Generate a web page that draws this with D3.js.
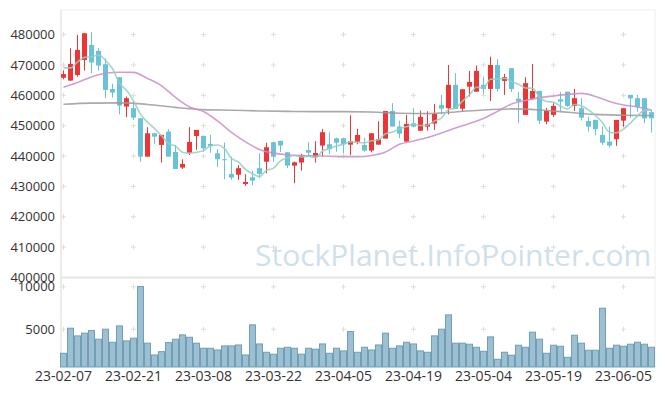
<!DOCTYPE html>
<html>
<head>
<meta charset="utf-8">
<script src="https://cdn.jsdelivr.net/npm/d3@7"></script>
<style>
  body { margin: 0; background: #fff; }
  svg { display: block; }
  text { font-family: "Open Sans", sans-serif; }
</style>
</head>
<body>
<div id="chart"></div>
<script>
// trading days 2023-02-07 .. 2023-06-12
const dates = [
  "23-02-07","23-02-08","23-02-09","23-02-10","23-02-13","23-02-14","23-02-15","23-02-16","23-02-17","23-02-20",
  "23-02-21","23-02-22","23-02-23","23-02-24","23-02-27","23-02-28","23-03-02","23-03-03","23-03-06","23-03-07",
  "23-03-08","23-03-09","23-03-10","23-03-13","23-03-14","23-03-15","23-03-16","23-03-17","23-03-20","23-03-21",
  "23-03-22","23-03-23","23-03-24","23-03-27","23-03-28","23-03-29","23-03-30","23-03-31","23-04-03","23-04-04",
  "23-04-05","23-04-06","23-04-07","23-04-10","23-04-11","23-04-12","23-04-13","23-04-14","23-04-17","23-04-18",
  "23-04-19","23-04-20","23-04-21","23-04-24","23-04-25","23-04-26","23-04-27","23-04-28","23-05-02","23-05-03",
  "23-05-04","23-05-08","23-05-09","23-05-10","23-05-11","23-05-12","23-05-15","23-05-16","23-05-17","23-05-18",
  "23-05-19","23-05-22","23-05-23","23-05-24","23-05-25","23-05-26","23-05-30","23-05-31","23-06-01","23-06-02",
  "23-06-05","23-06-07","23-06-08","23-06-09","23-06-12"
];

const open = [
  465800,464850,466700,471650,476600,474650,470250,462100,465950,456300,
  455750,452450,439800,447500,443650,448050,441350,436200,441100,446600,
  446600,444000,440900,438950,434100,433850,430800,433000,436000,438150,
  444550,445000,441250,436850,437850,442000,439800,443450,443900,445850,
  445850,443750,444750,443650,441800,443750,445750,454850,449700,444750,
  450800,448350,449700,450700,456850,455750,463450,455600,462850,461200,
  463450,462100,470000,464750,468950,458900,453550,458800,461450,451350,
  453550,458700,461200,456500,455750,451550,451900,446950,444750,445550,
  451650,460150,459050,459050,454450
];
const high = [
  468200,475500,479900,480450,480800,475500,472200,463800,466000,459600,
  458000,452450,449500,447500,446950,448850,443650,438950,449500,448600,
  446800,446950,442300,444400,439800,437050,434000,435200,440900,444400,
  444750,445000,441250,438150,440700,444550,444900,448950,447850,446050,
  446050,453450,448950,446000,447500,451450,454850,457400,451650,453550,
  455750,454950,454750,457150,460150,470000,467300,462000,468050,469800,
  466150,472750,471900,467050,468950,461100,465900,470350,461450,455850,
  457400,461100,461200,462100,459050,452950,451900,449700,449700,451900,
  455750,460150,460150,459050,455200
];
const low = [
  465300,464750,466150,468150,467300,468150,459050,459300,453750,452800,
  451900,438150,439800,444000,437850,439800,435750,435750,440350,442000,
  441450,441100,436450,432350,432150,432150,430150,430400,432700,434350,
  438050,441350,436000,431050,435200,439800,437850,439950,440600,441450,
  440900,440250,443900,441450,441250,443750,445750,449700,445950,444750,
  449700,448350,448350,448600,453750,453750,455500,454650,459600,461200,
  460450,458150,461200,460150,461100,450800,453550,458500,450600,450500,
  452900,454850,456200,454850,451700,448050,446800,443650,442850,443350,
  449700,452450,454550,450800,447700
];
const close = [
  467000,470350,474950,480450,470800,469800,461800,460900,456600,459050,
  452650,439800,447500,446400,446950,439800,435750,437400,444650,448600,
  442550,443350,438950,438650,432900,436000,431450,431900,434100,442900,
  439800,443450,436850,437950,440350,441100,441000,447850,442250,444400,
  443900,444900,446950,441800,447500,445550,454850,449700,447400,450600,
  449700,452900,450600,453850,455600,463450,455500,462000,464400,468050,
  462100,470000,462100,465950,462100,457950,464000,461450,451650,454850,
  456500,457950,456500,459050,452650,449700,448850,444400,443450,451900,
  455750,459000,456200,452400,452450
];
const volume = [
  2160,5120,4210,4530,4840,3820,5000,3460,5390,3620,
  3940,10030,3350,1960,2350,3420,3820,4330,4050,3350,
  2750,2750,2550,3030,3030,3140,1960,5510,3260,2280,
  2050,2750,2870,2750,2050,2750,2640,3260,2160,2750,
  2440,4720,2280,2870,2550,3140,4530,2750,3030,3460,
  3260,2440,2280,4210,5000,6690,3350,3350,3230,2870,
  2400,4090,1450,2280,1930,3110,2870,4650,3820,2160,
  3110,2990,1690,4290,3350,2520,2520,7480,2750,3110,
  2990,3230,3460,3230,2870
];

// moving averages (first MA5 values need earlier closes)
const ma5Head = [469030, 469030, 471000, 472490];
const ma20Idx = [0,2,4,6,8,10,12,14,16,18,20,22,24,26,28,30,32,34,36,38,40,42,
  44,46,48,50,52,54,56,58,60,62,64,66,68,70,72,74,76,78,80,82,84];
const ma20 = [462670,464250,466070,467280,467610,467550,465570,463100,459310,456180,
  454700,451570,447780,444650,442180,440960,440430,440130,440030,439940,439800,439800,
  440200,441350,443890,444980,446130,447610,449260,450740,452390,454700,457170,458320,
  459240,459800,460300,460630,459640,457990,456840,456180,455190];
const maLongIdx = [0,4,8,12,16,20,24,28,32,36,40,44,48,52,56,60,64,68,72,76,80,84];
const maLong = [457070,457430,457500,457000,456020,455290,455090,454860,454700,454630,
  454630,454530,454100,453970,454530,455190,455520,455190,454430,453710,453450,453310];

const priceTicks = [400000,410000,420000,430000,440000,450000,460000,470000,480000];
const volumeTicks = [5000, 10000];
const tickIdx = [0,10,20,30,40,50,60,70,80];

const W = 665, H = 396;
const plotL = 60, plotR = 655, plotT = 10, split = 277.5, plotB = 367;

const svg = d3.select("#chart").append("svg")
  .attr("width", W).attr("height", H);

const x = d3.scaleBand().domain(d3.range(dates.length)).range([plotL, plotR]).padding(0);
const bw = x.bandwidth();
const cx = i => x(i) + bw / 2;
const y = d3.scaleLinear().domain([400000, 488100]).range([split, plotT]);
const yv = d3.scaleLinear().domain([540, 11100]).range([plotB, split]);

// frame
const frame = svg.append("g").attr("fill", "none");
frame.append("line").attr("x1", 61).attr("x2", 61).attr("y1", plotT).attr("y2", plotB)
  .attr("stroke", "#e6e6e6").attr("stroke-width", 1.5);
frame.append("line").attr("x1", 61).attr("x2", plotR).attr("y1", plotT).attr("y2", plotT)
  .attr("stroke", "#eeeeee").attr("stroke-width", 1);
frame.append("line").attr("x1", plotR).attr("x2", plotR).attr("y1", plotT).attr("y2", plotB)
  .attr("stroke", "#eeeeee").attr("stroke-width", 1);
frame.append("line").attr("x1", 61).attr("x2", plotR).attr("y1", split).attr("y2", split)
  .attr("stroke", "#e4e4e4").attr("stroke-width", 2);

// grid crosses
const crossYs = priceTicks.filter(d => d > 400000).map(d => y(d)).concat(volumeTicks.map(d => yv(d)));
const crossXs = tickIdx.map(cx);
const cross = svg.append("g").attr("stroke", "#dddddd").attr("stroke-width", 1);
crossXs.forEach(px => crossYs.forEach(py => {
  cross.append("line").attr("x1", px - 2.5).attr("x2", px + 2.5).attr("y1", py).attr("y2", py);
  cross.append("line").attr("x1", px).attr("x2", px).attr("y1", py - 2.5).attr("y2", py + 2.5);
}));

// watermark
svg.append("text")
  .attr("x", 255).attr("y", 266)
  .attr("font-size", 30)
  .attr("fill", "#cfe0ea")
  .text("StockPlanet.InfoPointer.com");

// volume bars
svg.append("g").selectAll("rect").data(volume).join("rect")
  .attr("x", (d, i) => x(i) + 0.5)
  .attr("width", bw - 1)
  .attr("y", d => yv(d))
  .attr("height", d => plotB - yv(d))
  .attr("fill", "#9cc0d2")
  .attr("stroke", "#6e9fb7")
  .attr("stroke-width", 1);

// candles
const candles = svg.append("g").selectAll("g").data(d3.range(dates.length)).join("g");
const col = i => close[i] >= open[i] ? "#ee3535" : "#6ac2d9";
candles.append("line")
  .attr("x1", cx).attr("x2", cx)
  .attr("y1", i => y(high[i])).attr("y2", i => y(low[i]))
  .attr("stroke", col).attr("stroke-width", 1);
candles.append("rect")
  .attr("x", i => cx(i) - 2.5)
  .attr("width", 5)
  .attr("y", i => y(Math.max(open[i], close[i])))
  .attr("height", i => Math.max(1, Math.abs(y(open[i]) - y(close[i]))))
  .attr("fill", col);

// moving averages
const ma5 = close.map((c, i) => i < 4 ? ma5Head[i] : d3.mean(close.slice(i - 4, i + 1)));
const line = d3.line().x(d => cx(d[0])).y(d => y(d[1])).curve(d3.curveMonotoneX);
const maG = svg.append("g").attr("fill", "none").attr("stroke-width", 1.6).attr("stroke-opacity", 0.85);
maG.append("path").attr("d", line(maLongIdx.map((d, k) => [d, maLong[k]]))).attr("stroke", "#9a9a9a");
maG.append("path").attr("d", line(ma20Idx.map((d, k) => [d, ma20[k]]))).attr("stroke", "#c98ec5");
maG.append("path").attr("d", line(ma5.map((v, i) => [i, v]))).attr("stroke", "#8fd0c2");

// axes
const yAxis = svg.append("g").attr("transform", "translate(61,0)")
  .call(d3.axisLeft(y).tickValues(priceTicks).tickFormat(d3.format("d")).tickSize(0).tickPadding(6));
const vAxis = svg.append("g").attr("transform", "translate(61,0)")
  .call(d3.axisLeft(yv).tickValues(volumeTicks).tickFormat(d3.format("d")).tickSize(0).tickPadding(6));
const xAxis = svg.append("g").attr("transform", `translate(0,${plotB})`)
  .call(d3.axisBottom(x).tickValues(tickIdx).tickFormat(i => dates[i]).tickSize(0).tickPadding(4));
[yAxis, vAxis, xAxis].forEach(a => {
  a.select(".domain").remove();
  a.selectAll("text").attr("fill", "#333").attr("font-family", '"Open Sans", sans-serif');
});
yAxis.selectAll("text").attr("font-size", 13);
vAxis.selectAll("text").attr("font-size", 13);
xAxis.selectAll("text").attr("font-size", 14);
</script>
</body>
</html>
